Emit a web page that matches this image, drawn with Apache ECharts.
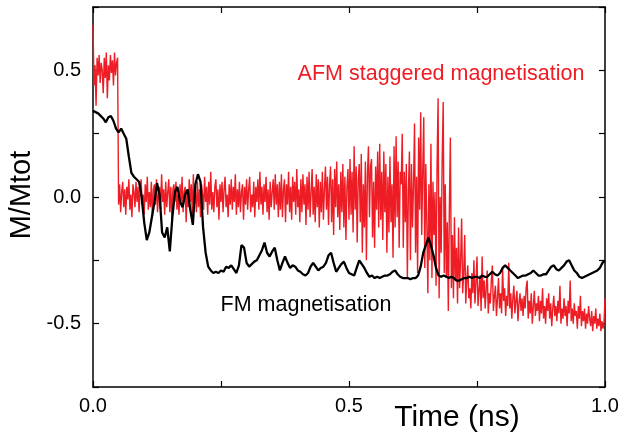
<!DOCTYPE html>
<html>
<head>
<meta charset="utf-8">
<script src="https://cdn.jsdelivr.net/npm/echarts@6/dist/echarts.min.js"></script>
<style>html,body{margin:0;padding:0;background:#fff;}#chart{width:622px;height:435px;}</style>
</head>
<body>
<div id="chart"></div>
<script>
// Tick labels
const xTickValues = [0, 0.5, 1.0];
const xTickLabels = ['0.0', '0.5', '1.0'];
const yTickValues = [-0.5, 0, 0.5];
const yTickLabels = ['-0.5', '0.0', '0.5'];

// AFM staggered magnetisation, sampled every 0.002 ns from t = 0
const afmStep = 0.002;
const afmValues = [
  // t 0 - 0.048
  0.68, 0.44, 0.52, 0.36, 0.55, 0.48, 0.56, 0.45, 0.53, 0.50, 0.41, 0.55, 0.47, 0.57, 0.39, 0.52, 0.46, 0.56, 0.49, 0.54, 0.44, 0.57, 0.48, 0.53, 0.55,
  // t 0.05 - 0.362
  -0.03, 0.05, -0.06, 0.02, 0.06, -0.04, 0.03, -0.07, 0.04, -0.01, 0.07, -0.05, 0.01, -0.08, 0.05, 0.02, -0.04, 0.06, -0.02, 0.04,
  -0.06, 0.03, 0.07, -0.03, 0.01, -0.07, 0.05, -0.02, 0.08, -0.05, 0.02, -0.04, 0.06, -0.08, 0.03, 0.05, -0.03, 0.07, -0.06, 0.01,
  0.04, -0.05, 0.09, -0.02, 0.03, -0.07, 0.06, -0.04, 0.02, 0.07, -0.06, 0.04, -0.09, 0.03, 0.05, -0.02, 0.06, -0.05, 0.01, -0.07,
  0.05, -0.03, 0.08, -0.06, 0.02, 0.04, -0.10, 0.03, -0.04, 0.07, -0.02, 0.05, -0.07, 0.09, -0.03, 0.02, -0.06, 0.06, -0.04, 0.03,
  -0.08, 0.05, 0.01, -0.05, 0.08, -0.02, 0.04, -0.07, 0.06, -0.03, 0.10, -0.05, 0.02, -0.06, 0.04, 0.07, -0.04, 0.03, -0.09, 0.05,
  -0.02, 0.06, -0.06, 0.03, 0.08, -0.04, 0.01, -0.08, 0.05, -0.03, 0.07, -0.05, 0.04, -0.02, 0.09, -0.07, 0.03, -0.04, 0.06, -0.06,
  0.02, 0.05, -0.09, 0.04, -0.03, 0.07, -0.05, 0.03, 0.08, -0.06, 0.01, -0.04, 0.06, -0.08, 0.04, -0.02, 0.07, -0.05, 0.10, -0.03,
  0.04, -0.07, 0.05, -0.02, 0.08, -0.06, 0.03, -0.09, 0.06, -0.04, 0.02, 0.07, -0.05, 0.09, -0.03, 0.05, -0.08,
  // t 0.364 - 0.462
  0.06, -0.05, 0.09, -0.08, 0.03, 0.07, -0.10, 0.05, -0.03, 0.10, -0.06, 0.04, -0.09, 0.08, -0.02, 0.06, -0.07, 0.11, -0.04, 0.03, -0.10, 0.07, -0.06, 0.09, -0.03,
  0.05, -0.11, 0.08, -0.05, 0.10, -0.08, 0.02, 0.11, -0.07, 0.04, -0.10, 0.09, -0.04, 0.07, -0.12, 0.06, -0.06, 0.10, -0.09, 0.03, 0.12, -0.05, 0.08, -0.11, 0.05,
  // t 0.464 - 0.542
  0.12, -0.10, 0.07, -0.15, 0.11, -0.04, 0.14, -0.08, 0.05, -0.13, 0.10, -0.06, 0.13, -0.12, 0.08, -0.17, 0.04, 0.11, -0.09, 0.15,
  -0.07, 0.10, -0.14, 0.20, -0.05, 0.12, -0.18, 0.07, 0.13, -0.10, 0.17, -0.22, 0.05, -0.12, 0.14, -0.25, 0.09, 0.20, -0.08, 0.12,
  // t 0.544 - 0.600
  0.15, -0.16, 0.06, -0.20, 0.12, -0.05, 0.18, -0.12, 0.21, -0.09, 0.10, -0.17, 0.18, -0.06, 0.13, -0.22, 0.08, -0.14, 0.16, -0.10,
  0.05, -0.24, 0.20, -0.12, 0.24, -0.08, 0.14, -0.20, 0.10,
  // t 0.602 - 0.720
  0.05, 0.25, -0.20, 0.10, -0.10, 0.13, -0.32, 0.02, 0.18, -0.25, 0.13, -0.12, 0.05, 0.29, -0.22, 0.08, -0.30, 0.235, -0.05, 0.335,
  -0.15, 0.10, 0.315, -0.28, 0.13, -0.10, -0.38, 0.05, -0.25, 0.21, -0.32, 0.06, -0.15, 0.02, -0.35, 0.12, 0.39, -0.40, 0.00, -0.22,
  0.15, 0.375, -0.30, 0.05, -0.32, -0.10, -0.45, -0.05, 0.235, -0.36, -0.15, -0.40, -0.08, -0.33, -0.20, -0.42, -0.12, -0.36, -0.25, -0.085,
  // t 0.722 - 1.000
  -0.38, -0.30, -0.15, -0.42, -0.33, -0.27, -0.40, -0.36, -0.44, -0.30, -0.38, -0.25, -0.42, -0.34, -0.235, -0.43, -0.37, -0.31, -0.45, -0.235,
  -0.40, -0.33, -0.44, -0.36, -0.29, -0.46, -0.38, -0.42, -0.33, -0.27, -0.45, -0.39, -0.35, -0.47, -0.40, -0.32, -0.44, -0.38, -0.46, -0.28,
  -0.41, -0.36, -0.47, -0.39, -0.43, -0.26, -0.44, -0.38, -0.48, -0.40, -0.35, -0.46, -0.41, -0.37, -0.49, -0.42, -0.38, -0.45, -0.40, -0.47,
  -0.39, -0.44, -0.36, -0.33, -0.48, -0.41, -0.46, -0.38, -0.50, -0.43, -0.37, -0.47, -0.42, -0.45, -0.39, -0.49, -0.41, -0.46, -0.36, -0.48,
  -0.43, -0.50, -0.40, -0.45, -0.38, -0.48, -0.42, -0.51, -0.44, -0.39, -0.47, -0.43, -0.49, -0.41, -0.46, -0.35, -0.50, -0.44, -0.48, -0.40,
  -0.47, -0.43, -0.51, -0.41, -0.46, -0.33, -0.49, -0.44, -0.50, -0.42, -0.47, -0.45, -0.52, -0.43, -0.48, -0.39, -0.51, -0.45, -0.49, -0.44,
  -0.52, -0.46, -0.50, -0.43, -0.48, -0.51, -0.45, -0.53, -0.47, -0.50, -0.44, -0.52, -0.48, -0.51, -0.46, -0.53, -0.49, -0.52, -0.50, -0.40
];

// FM magnetisation, sampled every 0.005 ns from t = 0
const fmStep = 0.005;
const fmValues = [
  0.34, 0.335, 0.33, 0.32, 0.31, 0.295, 0.315, 0.32, 0.30, 0.27,
  0.255, 0.27, 0.25, 0.23, 0.16, 0.095, 0.08, 0.07, 0.06, 0.0,
  -0.10, -0.17, -0.14, -0.08, -0.02, 0.055, 0.01, -0.14, -0.16, -0.12,
  -0.215, -0.08, 0.02, 0.04, -0.02, -0.04, 0.01, 0.03, -0.05, -0.11,
  0.05, 0.09, 0.06, -0.12, -0.22, -0.275, -0.29, -0.30, -0.295, -0.30,
  -0.29, -0.295, -0.275, -0.28, -0.27, -0.285, -0.30, -0.27, -0.19, -0.20,
  -0.26, -0.275, -0.265, -0.255, -0.25, -0.23, -0.21, -0.18, -0.22, -0.235,
  -0.215, -0.20, -0.25, -0.29, -0.26, -0.235, -0.26, -0.28, -0.27, -0.275,
  -0.29, -0.295, -0.305, -0.31, -0.30, -0.275, -0.26, -0.275, -0.29, -0.28,
  -0.275, -0.26, -0.23, -0.22, -0.26, -0.295, -0.28, -0.265, -0.255, -0.28,
  -0.30, -0.305, -0.31, -0.28, -0.25, -0.265, -0.28, -0.30, -0.315, -0.31,
  -0.32, -0.315, -0.32, -0.315, -0.31, -0.31, -0.305, -0.295, -0.29, -0.305,
  -0.315, -0.32, -0.32, -0.32, -0.325, -0.32, -0.32, -0.31, -0.275, -0.22,
  -0.19, -0.16, -0.19, -0.23, -0.28, -0.31, -0.315, -0.31, -0.315, -0.32,
  -0.315, -0.32, -0.33, -0.33, -0.325, -0.32, -0.32, -0.315, -0.32, -0.315,
  -0.315, -0.32, -0.31, -0.315, -0.315, -0.305, -0.295, -0.305, -0.31, -0.30,
  -0.28, -0.27, -0.28, -0.29, -0.30, -0.31, -0.32, -0.315, -0.31, -0.31,
  -0.305, -0.30, -0.29, -0.30, -0.31, -0.31, -0.305, -0.305, -0.29, -0.275,
  -0.27, -0.285, -0.29, -0.28, -0.27, -0.255, -0.25, -0.27, -0.29, -0.30,
  -0.315, -0.32, -0.315, -0.31, -0.305, -0.30, -0.295, -0.29, -0.28, -0.26,
  -0.25
];

const FONT = 'Liberation Sans, Arial, Helvetica, sans-serif';

function labelFor(values, labels) {
  return function (v) {
    for (let k = 0; k < values.length; k++) {
      if (Math.abs(v - values[k]) < 1e-9) return labels[k];
    }
    return '';
  };
}

const afmData = afmValues.map((v, i) => [i * afmStep, v]);
const fmData = fmValues.map((v, i) => [i * fmStep, v]);

const axisLineStyle = { show: true, onZero: false, lineStyle: { color: '#000', width: 1.5 } };
const tickStyle = { show: true, inside: true, length: 6, lineStyle: { color: '#000', width: 1.2 } };

const chart = echarts.init(document.getElementById('chart'), null, { renderer: 'canvas' });
chart.setOption({
  animation: false,
  backgroundColor: '#fff',
  grid: { left: 93, right: 17, top: 7, bottom: 48, containLabel: false },
  xAxis: [
    {
      type: 'value', min: 0, max: 1, interval: 0.25, position: 'bottom',
      axisLine: axisLineStyle, axisTick: tickStyle, splitLine: { show: false },
      axisLabel: { show: true, margin: 9, fontSize: 20, color: '#000', fontFamily: FONT,
        formatter: labelFor(xTickValues, xTickLabels) }
    },
    {
      type: 'value', min: 0, max: 1, interval: 0.25, position: 'top',
      axisLine: axisLineStyle, axisTick: tickStyle, splitLine: { show: false },
      axisLabel: { show: false }
    }
  ],
  yAxis: [
    {
      type: 'value', min: -0.75, max: 0.75, interval: 0.25, position: 'left',
      axisLine: axisLineStyle, axisTick: tickStyle, splitLine: { show: false },
      axisLabel: { show: true, margin: 12, fontSize: 20, color: '#000', fontFamily: FONT,
        formatter: labelFor(yTickValues, yTickLabels) }
    },
    {
      type: 'value', min: -0.75, max: 0.75, interval: 0.25, position: 'right',
      axisLine: axisLineStyle, axisTick: tickStyle, splitLine: { show: false },
      axisLabel: { show: false }
    }
  ],
  series: [
    {
      name: 'AFM staggered magnetisation', type: 'line', data: afmData,
      xAxisIndex: 0, yAxisIndex: 0, showSymbol: false, symbol: 'none', sampling: false,
      lineStyle: { color: '#ee1c24', width: 1.4 }, z: 2
    },
    {
      name: 'FM magnetisation', type: 'line', data: fmData,
      xAxisIndex: 0, yAxisIndex: 0, showSymbol: false, symbol: 'none', sampling: false,
      lineStyle: { color: '#000', width: 2.3 }, z: 3
    }
  ],
  graphic: [
    { type: 'text', x: 22, y: 195, rotation: Math.PI / 2,
      style: { text: 'M/Mtot', font: '29px ' + FONT, fill: '#000', textAlign: 'center', textVerticalAlign: 'middle', align: 'center', verticalAlign: 'middle' } },
    { type: 'text', x: 457, y: 418,
      style: { text: 'Time (ns)', font: '30px ' + FONT, fill: '#000', textAlign: 'center', textVerticalAlign: 'middle', align: 'center', verticalAlign: 'middle' } },
    { type: 'text', x: 441, y: 74,
      style: { text: 'AFM staggered magnetisation', font: '21.5px ' + FONT, fill: '#ee1c24', textAlign: 'center', textVerticalAlign: 'middle', align: 'center', verticalAlign: 'middle' } },
    { type: 'text', x: 306, y: 305,
      style: { text: 'FM magnetisation', font: '21.5px ' + FONT, fill: '#000', textAlign: 'center', textVerticalAlign: 'middle', align: 'center', verticalAlign: 'middle' } }
  ]
});
</script>
</body>
</html>
